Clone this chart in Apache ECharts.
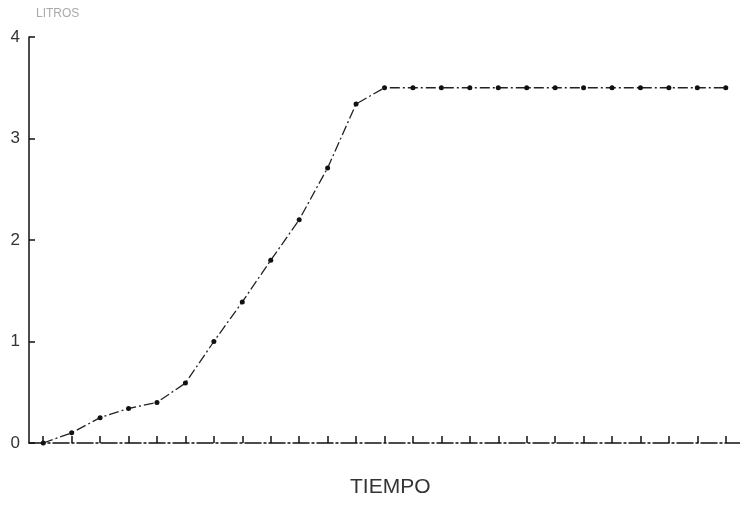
<!DOCTYPE html>
<html>
<head>
<meta charset="utf-8">
<script src="https://cdn.jsdelivr.net/npm/echarts@6/dist/echarts.min.js"></script>
<style>html,body{margin:0;padding:0;background:#fff}#c{width:740px;height:515px}</style>
</head>
<body>
<div id="c"></div>
<script>
const categories = ['0','1','2','3','4','5','6','7','8','9','10','11','12','13','14','15','16','17','18','19','20','21','22','23','24'];
const litros = [0, 0.1, 0.25, 0.34, 0.4, 0.59, 1.0, 1.39, 1.8, 2.2, 2.71, 3.34, 3.5, 3.5, 3.5, 3.5, 3.5, 3.5, 3.5, 3.5, 3.5, 3.5, 3.5, 3.5, 3.5];
const yTicks = [0, 1, 2, 3, 4];
const xTitle = 'TIEMPO';
const yTitle = 'LITROS';

const chart = echarts.init(document.getElementById('c'), null, {renderer: 'canvas'});
chart.setOption({
  animation: false,
  backgroundColor: '#fff',
  grid: {left: 29, top: 37, width: 712, bottom: 72, containLabel: false},
  xAxis: {
    type: 'category',
    data: categories,
    boundaryGap: true,
    axisLine: {lineStyle: {color: '#111', width: 1.5, type: [16, 3, 2, 3]}},
    axisTick: {show: true, inside: true, alignWithLabel: true, length: 7, lineStyle: {color: '#111', width: 1.5}},
    axisLabel: {show: false},
    splitLine: {show: false}
  },
  yAxis: {
    type: 'value',
    min: yTicks[0],
    max: yTicks[yTicks.length - 1],
    interval: 1,
    axisLine: {show: true, lineStyle: {color: '#111', width: 1.5}},
    axisTick: {show: true, inside: true, length: 6, lineStyle: {color: '#111', width: 1.5}},
    axisLabel: {color: '#333', fontSize: 17, fontFamily: 'Liberation Sans', margin: 9},
    splitLine: {show: false}
  },
  graphic: [
    {type: 'text', left: 350, top: 477, style: {text: xTitle, fill: '#333', font: '21px "Liberation Sans"'}},
    {type: 'text', left: 36, top: 8, style: {text: yTitle, fill: '#aaa', font: '12px "Liberation Sans"'}}
  ],
  series: [{
    type: 'line',
    data: litros,
    symbol: 'circle',
    symbolSize: 5,
    itemStyle: {color: '#111'},
    lineStyle: {color: '#222', width: 1.3, type: [10, 3, 2, 3]}
  }]
});
</script>
</body>
</html>
